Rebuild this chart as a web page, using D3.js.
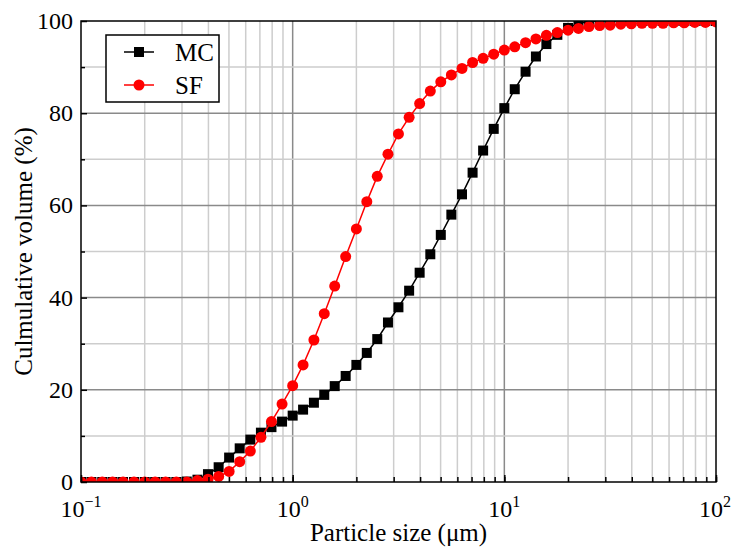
<!DOCTYPE html>
<html>
<head>
<meta charset="UTF-8">
<style>
  body { margin: 0; background: #fff; }
  text { font-family: "Liberation Serif", "Times New Roman", serif; fill: #000; }
</style>
</head>
<body>
<svg width="734" height="547"></svg>
<script src="https://cdnjs.cloudflare.com/ajax/libs/d3/7.8.5/d3.min.js"></script>
<script>
// particle size (µm)
const sizes = [
  0.1, 0.112, 0.126, 0.141, 0.158, 0.178, 0.2, 0.224, 0.251, 0.282,
  0.316, 0.355, 0.398, 0.447, 0.501, 0.562, 0.631, 0.708, 0.794, 0.891,
  1, 1.12, 1.26, 1.41, 1.58, 1.78, 2.0, 2.24, 2.51, 2.82,
  3.16, 3.55, 3.98, 4.47, 5.01, 5.62, 6.31, 7.08, 7.94, 8.91,
  10, 11.2, 12.6, 14.1, 15.8, 17.8, 20.0, 22.4, 25.1, 28.2,
  31.6, 35.5, 39.8, 44.7, 50.1, 56.2, 63.1, 70.8, 79.4, 89.1, 100
];
const mc = [
  0, 0, 0, 0, 0, 0, 0, 0, 0, 0,
  0.1, 0.5, 1.7, 3.2, 5.3, 7.3, 9.2, 10.7, 11.9, 13.1,
  14.4, 15.7, 17.2, 18.9, 20.8, 23.0, 25.4, 28.0, 31.0, 34.6,
  37.9, 41.5, 45.4, 49.4, 53.6, 58.0, 62.4, 67.1, 71.9, 76.6,
  81.1, 85.2, 89.0, 92.3, 95.0, 97.0, 98.5, 99.5, 99.9, 100,
  100, 100, 100, 100, 100, 100, 100, 100, 100, 100, 100
];
const sf = [
  0, 0, 0, 0, 0, 0, 0, 0, 0, 0,
  0, 0.3, 0.6, 1.2, 2.3, 4.4, 6.7, 9.7, 13.1, 16.9,
  20.9, 25.4, 30.8, 36.5, 42.5, 48.9, 54.9, 60.8, 66.3, 71.1,
  75.5, 79.1, 82.1, 84.8, 86.8, 88.3, 89.7, 91.0, 91.9, 92.8,
  93.7, 94.4, 95.3, 96.1, 96.9, 97.5, 98.0, 98.4, 98.8, 99.0,
  99.1, 99.3, 99.4, 99.5, 99.5, 99.5, 99.6, 99.6, 99.7, 99.7, 99.8
];
const xMajor = [0.1, 1, 10, 100];
const xExp = ['\u22121', '0', '1', '2'];
const yMajor = [0, 20, 40, 60, 80, 100];
const yMinor = [10, 30, 50, 70, 90];
const series = [
  { name: 'MC', values: mc, color: '#000000', shape: 'square' },
  { name: 'SF', values: sf, color: '#ff0000', shape: 'circle' }
];

const svg = d3.select('svg');
const margin = { top: 21, right: 18, bottom: 65, left: 81 };
const width = +svg.attr('width');
const height = +svg.attr('height');
const innerWidth = width - margin.left - margin.right;
const innerHeight = height - margin.top - margin.bottom;

const xScale = d3.scaleLog().domain([0.1, 100]).range([0, innerWidth]);
const yScale = d3.scaleLinear().domain([0, 100]).range([innerHeight, 0]);

const g = svg.append('g')
  .attr('transform', `translate(${margin.left},${margin.top})`);

g.append('defs').append('clipPath').attr('id', 'plot-clip')
  .append('rect').attr('width', innerWidth).attr('height', innerHeight);

// grid
const isMajorX = (v) => Math.abs(Math.log10(v) - Math.round(Math.log10(v))) < 1e-6;
g.append('g').selectAll('line')
  .data(xScale.ticks().filter((v) => v > 0.1 && v < 100))
  .join('line')
  .attr('x1', (d) => xScale(d)).attr('x2', (d) => xScale(d))
  .attr('y1', 0).attr('y2', innerHeight)
  .attr('stroke', (d) => (isMajorX(d) ? '#8a8a8a' : '#cdcdcd'))
  .attr('stroke-width', 1.5);

g.append('g').selectAll('line')
  .data(yMajor.slice(1, -1).concat(yMinor))
  .join('line')
  .attr('x1', 0).attr('x2', innerWidth)
  .attr('y1', (d) => yScale(d)).attr('y2', (d) => yScale(d))
  .attr('stroke', (d) => (d % 20 === 0 ? '#8a8a8a' : '#cdcdcd'))
  .attr('stroke-width', 1.5);

// series
const plot = g.append('g').attr('clip-path', 'url(#plot-clip)');
const line = d3.line()
  .x((d) => xScale(d[0]))
  .y((d) => yScale(d[1]));

const drawMarker = (sel, s) => {
  if (s.shape === 'square') {
    sel.append('rect')
      .attr('x', -5).attr('y', -5)
      .attr('width', 10).attr('height', 10)
      .attr('fill', s.color);
  } else {
    sel.append('circle').attr('r', 5.5).attr('fill', s.color);
  }
};

series.forEach((s) => {
  const pts = sizes.map((v, i) => [v, s.values[i]]);
  plot.append('path')
    .datum(pts)
    .attr('d', line)
    .attr('fill', 'none')
    .attr('stroke', s.color)
    .attr('stroke-width', 1.5);
  plot.append('g').selectAll('g')
    .data(pts)
    .join('g')
    .attr('transform', (d) => `translate(${xScale(d[0])},${yScale(d[1])})`)
    .each(function () { drawMarker(d3.select(this), s); });
});

// axes (ticks only, pointing inward)
g.append('g')
  .call(d3.axisLeft(yScale).tickValues(yMajor).tickSize(-6).tickSizeOuter(0));
g.append('g')
  .call(d3.axisLeft(yScale).tickValues(yMinor).tickSize(-4).tickSizeOuter(0));
g.append('g')
  .attr('transform', `translate(0,${innerHeight})`)
  .call(d3.axisBottom(xScale).tickValues(xScale.ticks()).tickSize(-5).tickSizeOuter(0));
g.append('g')
  .attr('transform', `translate(0,${innerHeight})`)
  .call(d3.axisBottom(xScale).tickValues(xMajor).tickSize(-7).tickSizeOuter(0));

g.selectAll('.domain').remove();
g.selectAll('.tick text').remove();
g.selectAll('.tick line').attr('stroke', '#000').attr('stroke-width', 1.5);

// tick labels
g.append('g').selectAll('text')
  .data(yMajor)
  .join('text')
  .attr('x', -8)
  .attr('y', (d) => yScale(d))
  .attr('dy', '0.33em')
  .attr('text-anchor', 'end')
  .attr('font-size', 24)
  .text((d) => d);

g.append('g').selectAll('text')
  .data(xMajor)
  .join('text')
  .attr('x', (d, i) => xScale(d) - (i === xMajor.length - 1 ? 1 : 0))
  .attr('y', innerHeight + 35)
  .attr('text-anchor', 'middle')
  .attr('font-size', 24)
  .each(function (d, i) {
    const t = d3.select(this);
    t.append('tspan').text('10');
    t.append('tspan').attr('font-size', 16).attr('dy', -10).text(xExp[i]);
  });

// frame
g.append('rect')
  .attr('width', innerWidth).attr('height', innerHeight)
  .attr('fill', 'none').attr('stroke', '#000').attr('stroke-width', 1.5);

// axis titles
svg.append('text')
  .attr('transform', `translate(32,${margin.top + innerHeight / 2}) rotate(-90)`)
  .attr('text-anchor', 'middle')
  .attr('font-size', 25)
  .text('Culmulative volume (%)');

svg.append('text')
  .attr('x', margin.left + innerWidth / 2)
  .attr('y', 541)
  .attr('text-anchor', 'middle')
  .attr('font-size', 25)
  .text('Particle size (\u03bcm)');

// legend
const legend = svg.append('g').attr('transform', 'translate(106,35)');
legend.append('rect')
  .attr('width', 113).attr('height', 67)
  .attr('fill', '#fff').attr('stroke', '#000').attr('stroke-width', 1.5);
series.forEach((s, i) => {
  const row = legend.append('g').attr('transform', `translate(0,${17 + i * 33})`);
  row.append('line')
    .attr('x1', 18).attr('x2', 48)
    .attr('stroke', s.color).attr('stroke-width', 1.5);
  drawMarker(row.append('g').attr('transform', 'translate(33,0)'), s);
  row.append('text')
    .attr('x', 69).attr('y', 9)
    .attr('font-size', 25)
    .text(s.name);
});
</script>
</body>
</html>
